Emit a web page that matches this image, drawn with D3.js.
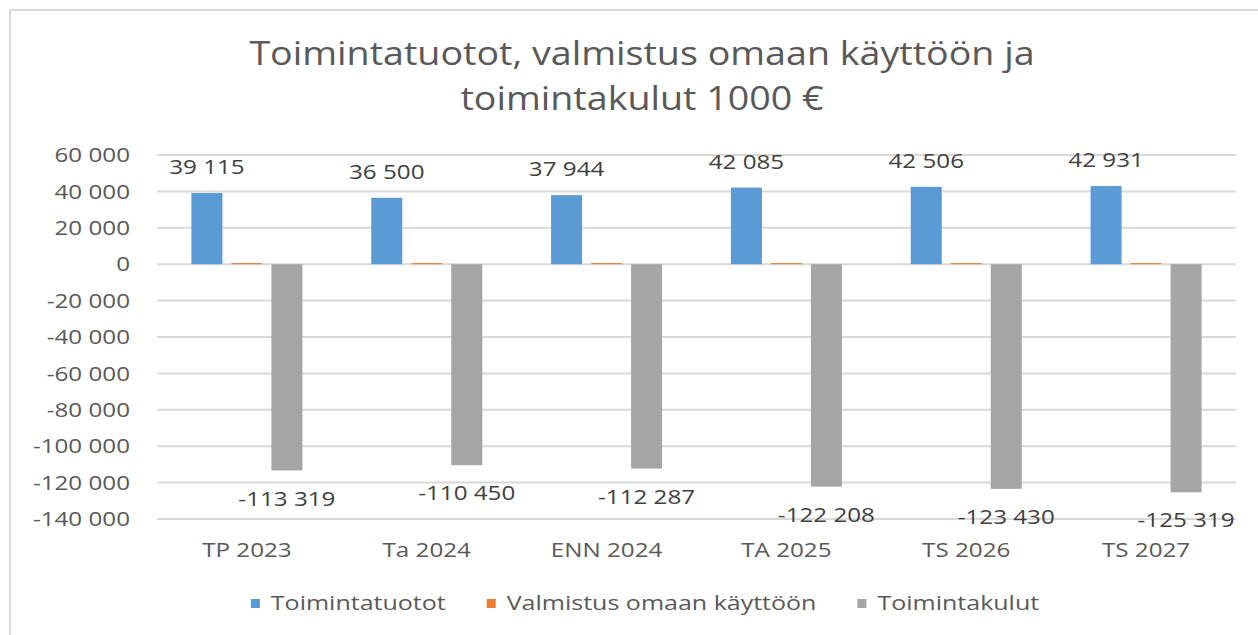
<!DOCTYPE html>
<html>
<head>
<meta charset="utf-8">
<script src="https://cdn.jsdelivr.net/npm/d3@7"></script>
<style>
  body { margin: 0; background: #fff; }
  text { font-family: "Open Sans", "Noto Sans", sans-serif; }
</style>
</head>
<body>
<svg id="chart" width="1258" height="635"></svg>
<script>
// ===== DATA =====
const categories = ["TP 2023", "Ta 2024", "ENN 2024", "TA 2025", "TS 2026", "TS 2027"];
const seriesNames = ["Toimintatuotot", "Valmistus omaan käyttöön", "Toimintakulut"];
const tuotot = [39115, 36500, 37944, 42085, 42506, 42931];
const valmistus = [600, 600, 600, 600, 600, 600];
const kulut = [-113319, -110450, -112287, -122208, -123430, -125319];
const yTicks = [60000, 40000, 20000, 0, -20000, -40000, -60000, -80000, -100000, -120000, -140000];
const titleLines = ["Toimintatuotot, valmistus omaan käyttöön ja", "toimintakulut 1000 €"];

const colors = ["#5B9BD5", "#ED7D31", "#A5A5A5"];
const seriesValues = [tuotot, valmistus, kulut];

const svg = d3.select("#chart");
const centerX = 645;

// the original text is a bit wider than our font, stretch it
function stretch(sel, k) {
  sel.each(function() {
    const w = this.getComputedTextLength();
    d3.select(this)
      .attr("textLength", w * k)
      .attr("lengthAdjust", "spacingAndGlyphs");
  });
}

// chart border (right/bottom sides fall outside the picture)
svg.append("rect")
  .attr("x", 10).attr("y", 10)
  .attr("width", 1300).attr("height", 700)
  .attr("fill", "#fff")
  .attr("stroke", "#d9d9d9")
  .attr("stroke-width", 2);

// ===== TITLE =====
svg.append("g").selectAll("text")
  .data(titleLines)
  .enter()
  .append("text")
  .attr("x", 642)
  .attr("y", (d, i) => 65 + i * 45)
  .attr("text-anchor", "middle")
  .attr("font-size", 33)
  .attr("fill", "#595959")
  .text(d => d)
  .call(stretch, 1.14);

// ===== SCALES =====
const x0 = d3.scaleBand().domain(categories).range([157, 1236]);
const x1 = d3.scaleBand().domain(seriesNames)
  .range([0, x0.bandwidth()])
  .paddingInner(0.225)
  .paddingOuter(0.86);
const y = d3.scaleLinear().domain([-140000, 60000]).range([519, 155]);

const fmt = d3.formatLocale({ decimal: ",", thousands: "\u00a0", grouping: [3], currency: ["", " €"], minus: "-" }).format(",d");

// gridlines
svg.append("g").selectAll("line")
  .data(yTicks)
  .enter()
  .append("line")
  .attr("x1", 157).attr("x2", 1236)
  .attr("y1", d => y(d)).attr("y2", d => y(d))
  .attr("stroke", "#d9d9d9")
  .attr("stroke-width", 2);

// y axis labels
svg.append("g").selectAll("text")
  .data(yTicks)
  .enter()
  .append("text")
  .attr("x", 130)
  .attr("y", d => y(d))
  .attr("dy", "0.36em")
  .attr("text-anchor", "end")
  .attr("font-size", 20)
  .attr("fill", "#595959")
  .text(d => fmt(d))
  .call(stretch, 1.21);

// ===== BARS =====
const groups = svg.append("g").selectAll("g")
  .data(categories)
  .enter()
  .append("g")
  .attr("transform", d => `translate(${x0(d)},0)`);

groups.selectAll("rect")
  .data((c, ci) => seriesNames.map((s, si) => ({ s, si, v: seriesValues[si][ci] })))
  .enter()
  .append("rect")
  .attr("x", d => x1(d.s))
  .attr("width", x1.bandwidth())
  .attr("y", d => y(Math.max(0, d.v)))
  .attr("height", d => Math.abs(y(d.v) - y(0)))
  .attr("fill", d => colors[d.si]);

// data labels (not for the tiny series)
groups.selectAll("text.lbl")
  .data((c, ci) => [0, 2].map(si => ({ s: seriesNames[si], v: seriesValues[si][ci] })))
  .enter()
  .append("text")
  .attr("class", "lbl")
  .attr("x", d => x1(d.s) + x1.bandwidth() / 2)
  .attr("y", d => d.v >= 0 ? y(d.v) - 26 : y(d.v) + 28)
  .attr("dy", "0.36em")
  .attr("text-anchor", "middle")
  .attr("font-size", 20)
  .attr("fill", "#404040")
  .text(d => fmt(d.v))
  .call(stretch, 1.21);

// category labels
svg.append("g").selectAll("text")
  .data(categories)
  .enter()
  .append("text")
  .attr("x", d => x0(d) + x0.bandwidth() / 2)
  .attr("y", 557)
  .attr("text-anchor", "middle")
  .attr("font-size", 20)
  .attr("fill", "#595959")
  .text(d => d)
  .call(stretch, 1.21);

// ===== LEGEND =====
const legend = svg.append("g");
const items = legend.selectAll("g")
  .data(seriesNames)
  .enter()
  .append("g");

items.append("rect")
  .attr("width", 9).attr("height", 9)
  .attr("y", 599)
  .attr("fill", (d, i) => colors[i]);

items.append("text")
  .attr("x", 20)
  .attr("y", 610)
  .attr("font-size", 20)
  .attr("fill", "#595959")
  .text(d => d)
  .call(stretch, 1.25);

const widths = [];
items.each(function() {
  widths.push(20 + +d3.select(this).select("text").attr("textLength"));
});
const gap = 41;
const total = d3.sum(widths) + gap * (widths.length - 1);
let offset = centerX - total / 2;
items.attr("transform", (d, i) => {
  const t = `translate(${offset},0)`;
  offset += widths[i] + gap;
  return t;
});
</script>
</body>
</html>
